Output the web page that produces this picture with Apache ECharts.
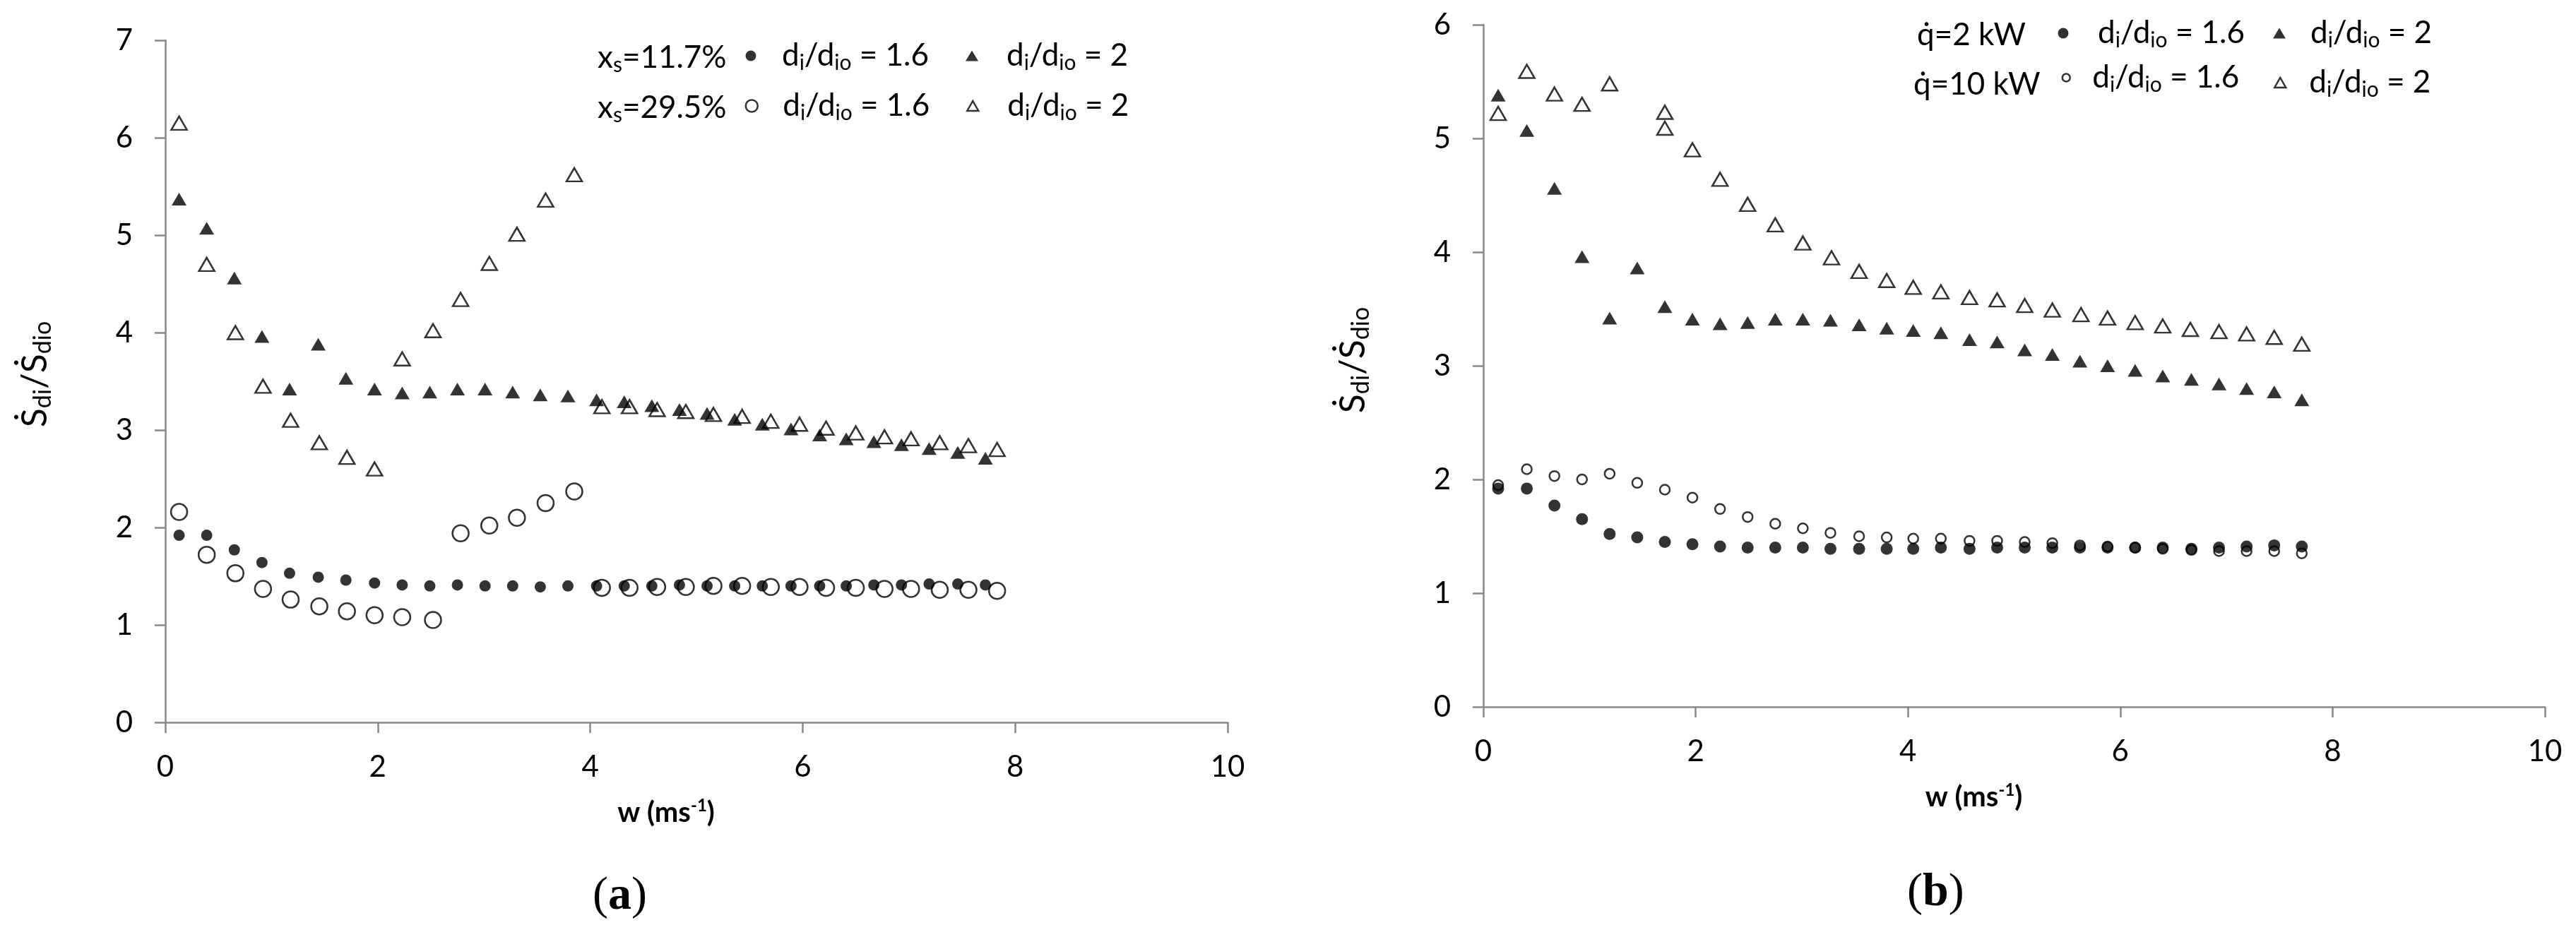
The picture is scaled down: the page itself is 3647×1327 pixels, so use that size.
<!DOCTYPE html>
<html>
<head>
<meta charset="utf-8">
<script src="https://cdn.jsdelivr.net/npm/echarts@6/dist/echarts.min.js"></script>
<style>
  html, body { margin: 0; padding: 0; background: #fff; }
  #chart { width: 3647px; height: 1327px; }
</style>
</head>
<body>
<div id="chart"></div>
<script>
// ---- panel (a): x_s = 11.7 % (filled) and 29.5 % (open) ----
const wA_filled = [0.13, 0.39, 0.65, 0.91, 1.17, 1.44, 1.70, 1.97, 2.23, 2.49, 2.75, 3.01, 3.27, 3.53, 3.79,
  4.06, 4.32, 4.58, 4.84, 5.10, 5.36, 5.62, 5.89, 6.16, 6.41, 6.67, 6.93, 7.19, 7.46, 7.72];
const sA_x117_d16 = [1.92, 1.92, 1.77, 1.64, 1.53, 1.49, 1.46, 1.43, 1.41, 1.40, 1.41, 1.40, 1.40, 1.39, 1.40,
  1.40, 1.40, 1.40, 1.41, 1.40, 1.40, 1.40, 1.40, 1.40, 1.40, 1.41, 1.41, 1.42, 1.42, 1.41];
const sA_x117_d2 = [5.37, 5.07, 4.56, 3.96, 3.42, 3.88, 3.53, 3.42, 3.38, 3.39, 3.42, 3.42, 3.39, 3.36, 3.35,
  3.31, 3.29, 3.25, 3.21, 3.17, 3.11, 3.06, 3.01, 2.95, 2.91, 2.88, 2.85, 2.81, 2.77, 2.71];
const wA_open = [0.13, 0.39, 0.66, 0.92, 1.18, 1.45, 1.71, 1.97, 2.23, 2.52, 2.78, 3.05, 3.31, 3.58, 3.85,
  4.11, 4.37, 4.63, 4.90, 5.16, 5.43, 5.70, 5.97, 6.22, 6.50, 6.77, 7.02, 7.29, 7.56, 7.83];
const sA_x295_d16 = [2.16, 1.72, 1.53, 1.37, 1.26, 1.19, 1.14, 1.10, 1.08, 1.05, 1.94, 2.02, 2.10, 2.25, 2.37,
  1.38, 1.38, 1.39, 1.39, 1.40, 1.40, 1.39, 1.39, 1.38, 1.38, 1.37, 1.37, 1.36, 1.36, 1.35];
const sA_x295_d2 = [6.15, 4.70, 4.00, 3.45, 3.10, 2.87, 2.72, 2.60, 3.73, 4.02, 4.34, 4.71, 5.01, 5.36, 5.62,
  3.24, 3.24, 3.21, 3.19, 3.16, 3.14, 3.09, 3.06, 3.02, 2.97, 2.93, 2.91, 2.87, 2.84, 2.80];

// ---- panel (b): q = 2 kW (filled) and 10 kW (open) ----
const wB = [0.14, 0.41, 0.67, 0.93, 1.19, 1.45, 1.71, 1.97, 2.23, 2.49, 2.75, 3.01, 3.27, 3.54, 3.80,
  4.05, 4.31, 4.58, 4.84, 5.10, 5.36, 5.62, 5.88, 6.14, 6.40, 6.67, 6.93, 7.19, 7.45, 7.71];
const sB_q2_d16 = [1.92, 1.92, 1.77, 1.65, 1.52, 1.49, 1.45, 1.43, 1.41, 1.40, 1.40, 1.40, 1.39, 1.39, 1.39,
  1.39, 1.40, 1.39, 1.40, 1.40, 1.40, 1.40, 1.40, 1.40, 1.40, 1.39, 1.40, 1.41, 1.42, 1.41];
const sB_q2_d2 = [5.38, 5.07, 4.56, 3.96, 3.42, 3.86, 3.52, 3.41, 3.37, 3.38, 3.41, 3.41, 3.40, 3.36, 3.33,
  3.31, 3.29, 3.23, 3.21, 3.14, 3.10, 3.04, 3.00, 2.96, 2.91, 2.88, 2.84, 2.80, 2.77, 2.70];
const sB_q10_d16 = [1.95, 2.09, 2.03, 2.00, 2.05, 1.97, 1.91, 1.84, 1.74, 1.67, 1.61, 1.57, 1.53, 1.50, 1.49,
  1.48, 1.48, 1.46, 1.46, 1.45, 1.44, 1.42, 1.41, 1.40, 1.39, 1.38, 1.37, 1.37, 1.37, 1.35];
const wB_q10_d2 = [0.14, 0.41, 0.67, 0.93, 1.19, 1.71, 1.71, 1.97, 2.23, 2.49, 2.75, 3.01, 3.28, 3.54, 3.80,
  4.05, 4.31, 4.58, 4.84, 5.10, 5.36, 5.63, 5.88, 6.14, 6.40, 6.66, 6.93, 7.19, 7.45, 7.71];
const sB_q10_d2 = [5.22, 5.59, 5.39, 5.30, 5.48, 5.23, 5.09, 4.90, 4.64, 4.42, 4.24, 4.08, 3.95, 3.83, 3.75,
  3.69, 3.65, 3.60, 3.58, 3.53, 3.49, 3.45, 3.42, 3.38, 3.35, 3.32, 3.30, 3.28, 3.25, 3.19];

const yMaxA = 7;
const yMaxB = 6;
const xMax = 10;

const FONT = "Lato";
const GREY = "#888888";
const chart = echarts.init(document.getElementById("chart"));

function pairs(xs, ys) {
  return xs.map((x, i) => [x, ys[i]]);
}

const filled = { color: "#000" };
const hollow = { color: "rgba(0,0,0,0)", borderColor: "#000", borderWidth: 2.5 };

const textRich = {
  n: { fontFamily: FONT, fontWeight: "normal", fontSize: 44, lineHeight: 50, color: "#000" },
  sb: { fontFamily: FONT, fontWeight: "normal", fontSize: 30, lineHeight: 20, verticalAlign: "bottom", color: "#000" },
};

function xAxisFor(gridIndex, namePad) {
  return {
    type: "value", gridIndex, min: 0, max: xMax, interval: 2,
    axisLine: { show: true, onZero: false, lineStyle: { color: GREY, width: 2.5 } },
    axisTick: { show: true, length: 15, lineStyle: { color: GREY, width: 2.5 } },
    splitLine: { show: false },
    axisLabel: { color: "#000", fontFamily: FONT, fontSize: 42, margin: 42 },
    name: "{w|w (ms}{sup|-1}{w|)}",
    nameLocation: "middle",
    nameGap: 106,
    nameTextStyle: {
      padding: [0, namePad, 0, 0],
      rich: {
        w: { fontFamily: FONT, fontWeight: "bold", fontSize: 40, lineHeight: 44, color: "#000" },
        sup: { fontFamily: FONT, fontWeight: "bold", fontSize: 24, lineHeight: 24, verticalAlign: "top", color: "#000" },
      },
    },
  };
}

function yAxisFor(gridIndex, max) {
  return {
    type: "value", gridIndex, min: 0, max, interval: 1,
    axisLine: { show: true, onZero: false, lineStyle: { color: GREY, width: 2.5 } },
    axisTick: { show: true, length: 15, lineStyle: { color: GREY, width: 2.5 } },
    splitLine: { show: false },
    axisLabel: { color: "#000", fontFamily: FONT, fontSize: 42, margin: 46 },
  };
}

// rotated y-axis title, centred on (cx, cy)
function yTitle(cx, cy) {
  return {
    type: "text", x: cx, y: cy, rotation: Math.PI / 2, silent: true,
    style: {
      text: "{s|Ṡ}{sb|di}{s|/Ṡ}{sb|dio}",
      align: "center", verticalAlign: "middle",
      rich: {
        s: { fontFamily: FONT, fontSize: 50, lineHeight: 56, fill: "#000" },
        sb: { fontFamily: FONT, fontSize: 34, lineHeight: 24, verticalAlign: "bottom", fill: "#000" },
      },
    },
  };
}

function scatter(name, axis, xs, ys, symbol, size, style) {
  return {
    type: "scatter", name, xAxisIndex: axis, yAxisIndex: axis,
    symbol, symbolSize: size, itemStyle: style,
    data: pairs(xs, ys), silent: true,
  };
}

function legendItem(name, iconCx, cy, iconW, iconH, textLeft, icon, style, ratio) {
  const spW = Math.max(1, textLeft - (iconCx + iconW / 2) - 5);
  return {
    show: true, orient: "horizontal", padding: 0, itemGap: 0,
    left: iconCx - iconW / 2, top: cy - 25,
    itemWidth: iconW, itemHeight: iconH,
    selectedMode: false,
    data: [{ name, icon, itemStyle: style }],
    formatter: () => "{sp| }{n|d}{sb|i}{n|/d}{sb|io}{n| = " + ratio + "}",
    textStyle: { rich: Object.assign({ sp: { width: spW, lineHeight: 50 } }, textRich) },
  };
}

function rowLabel(text, left, cy) {
  return { text, left, top: cy - 25, padding: 0, textStyle: { fontWeight: "normal", rich: textRich } };
}

function panelTag(letter, cx, cy) {
  return {
    text: "{p|(}{b|" + letter + "}{p|)}",
    left: cx - 38, top: cy - 38, padding: 0,
    textStyle: {
      fontWeight: "normal",
      rich: {
        p: { fontFamily: "Liberation Serif", fontWeight: "normal", fontSize: 66, lineHeight: 76, color: "#000" },
        b: { fontFamily: "Liberation Serif", fontWeight: "bold", fontSize: 66, lineHeight: 76, color: "#000" },
      },
    },
  };
}

const names = {
  a1: "xs=11.7% d=1.6", a2: "xs=11.7% d=2", a3: "xs=29.5% d=1.6", a4: "xs=29.5% d=2",
  b1: "q=2kW d=1.6", b2: "q=2kW d=2", b3: "q=10kW d=1.6", b4: "q=10kW d=2",
};

const option = {
  backgroundColor: "#fff",
  animation: false,
  grid: [
    { left: 234, top: 57, width: 1504, height: 966 },
    { left: 2100, top: 35, width: 1503, height: 966 },
  ],
  xAxis: [xAxisFor(0, 86), xAxisFor(1, 114)],
  yAxis: [yAxisFor(0, yMaxA), yAxisFor(1, yMaxB)],
  graphic: [yTitle(50, 530), yTitle(1916, 510)],
  title: [
    rowLabel("{n|x}{sb|s}{n|=11.7%}", 846, 82),
    rowLabel("{n|x}{sb|s}{n|=29.5%}", 846, 153),
    rowLabel("{n|q̇=2 kW}", 2714, 50),
    rowLabel("{n|q̇=10 kW}", 2709, 120),
    panelTag("a", 877, 1270),
    panelTag("b", 2738, 1265),
  ],
  legend: [
    legendItem(names.a1, 1063, 82, 15, 15, 1107, "circle", filled, "1.6"),
    legendItem(names.a2, 1376, 82, 18, 15, 1425, "triangle", filled, "2"),
    legendItem(names.a3, 1063, 153, 17, 17, 1107, "circle", hollow, "1.6"),
    legendItem(names.a4, 1376, 153, 16, 14, 1425, "triangle", hollow, "2"),
    legendItem(names.b1, 2921, 50, 15, 15, 2970, "circle", filled, "1.6"),
    legendItem(names.b2, 3227, 50, 18, 15, 3271, "triangle", filled, "2"),
    legendItem(names.b3, 2924, 113, 11, 11, 2961, "circle", hollow, "1.6"),
    legendItem(names.b4, 3227, 120, 16, 14, 3268, "triangle", hollow, "2"),
  ],
  series: [
    scatter(names.a1, 0, wA_filled, sA_x117_d16, "circle", 16, filled),
    scatter(names.a2, 0, wA_filled, sA_x117_d2, "triangle", [21, 18], filled),
    scatter(names.a3, 0, wA_open, sA_x295_d16, "circle", 23, hollow),
    scatter(names.a4, 0, wA_open, sA_x295_d2, "triangle", [22, 19], hollow),
    scatter(names.b1, 1, wB, sB_q2_d16, "circle", 17, filled),
    scatter(names.b2, 1, wB, sB_q2_d2, "triangle", [21, 18], filled),
    scatter(names.b3, 1, wB, sB_q10_d16, "circle", 14, hollow),
    scatter(names.b4, 1, wB_q10_d2, sB_q10_d2, "triangle", [22, 19], hollow),
  ],
};

chart.setOption(option);
</script>
</body>
</html>
